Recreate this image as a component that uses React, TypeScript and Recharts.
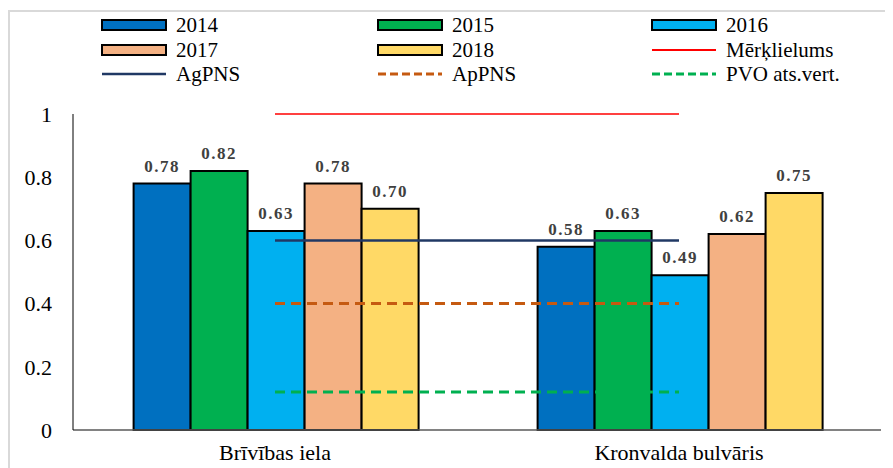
import { ComposedChart, Bar, Line, XAxis, YAxis, LabelList } from "recharts";

const categories = ["Brīvības iela", "Kronvalda bulvāris"];
const v2014 = [0.78, 0.58];
const v2015 = [0.82, 0.63];
const v2016 = [0.63, 0.49];
const v2017 = [0.78, 0.62];
const v2018 = [0.7, 0.75];
const merkis = [1, 1];
const agPNS = [0.6, 0.6];
const apPNS = [0.4, 0.4];
const pvo = [0.12, 0.12];
const yTicks = [0, 0.2, 0.4, 0.6, 0.8, 1];

const data = categories.map((name, i) => ({
  name,
  y2014: v2014[i],
  y2015: v2015[i],
  y2016: v2016[i],
  y2017: v2017[i],
  y2018: v2018[i],
  merkis: merkis[i],
  agPNS: agPNS[i],
  apPNS: apPNS[i],
  pvo: pvo[i],
}));

const bars = [
  { key: "y2014", name: "2014", color: "#0070C0" },
  { key: "y2015", name: "2015", color: "#00B050" },
  { key: "y2016", name: "2016", color: "#00B0F0" },
  { key: "y2017", name: "2017", color: "#F4B183" },
  { key: "y2018", name: "2018", color: "#FFD966" },
];

const lines = [
  { key: "merkis", name: "Mērķlielums", color: "#FF0000", width: 1.5, dash: undefined },
  { key: "agPNS", name: "AgPNS", color: "#203864", width: 2.5, dash: undefined },
  { key: "apPNS", name: "ApPNS", color: "#C55A11", width: 3, dash: "10 6" },
  { key: "pvo", name: "PVO ats.vert.", color: "#00B050", width: 3, dash: "10 6" },
];

const serif = "Liberation Serif, Times New Roman, serif";

// leģendas elementi trīs kolonnās
const legendItems = [
  ...bars.map((b) => ({ name: b.name, color: b.color, type: "bar", dash: undefined as string | undefined, width: 0 })),
  ...lines.map((l) => ({ name: l.name, color: l.color, type: "line", dash: l.dash, width: l.width })),
];

function ChartLegend() {
  const colX = [91, 367, 641];
  const rowY = [1, 26, 50];
  return (
    <>
      {legendItems.map((it, i) => {
        const col = i % 3;
        const row = Math.floor(i / 3);
        return (
          <div
            key={it.name}
            style={{
              position: "absolute",
              left: colX[col],
              top: rowY[row],
              display: "flex",
              alignItems: "center",
              fontFamily: serif,
              fontSize: 21,
              color: "#000",
              height: 24,
              whiteSpace: "nowrap",
            }}
          >
            <svg width={67} height={16} style={{ marginRight: 8 }}>
              {it.type === "bar" ? (
                <rect x={1} y={3} width={64} height={10} fill={it.color} stroke="#000" strokeWidth={2} />
              ) : (
                <line
                  x1={1}
                  x2={65}
                  y1={8}
                  y2={8}
                  stroke={it.color}
                  strokeWidth={it.width < 2 ? 2 : it.width}
                  strokeDasharray={it.dash ? "8 4" : undefined}
                />
              )}
            </svg>
            {it.name}
          </div>
        );
      })}
    </>
  );
}

export default function App() {
  return (
    <div
      style={{
        position: "relative",
        width: 900,
        height: 470,
        marginTop: 2,
        borderTop: "2px solid #d9d9d9",
        borderLeft: "2px solid #d9d9d9",
        boxSizing: "border-box",
        background: "#fff",
        fontFamily: serif,
      }}
    >
      <ChartLegend />
      <div style={{ position: "absolute", left: 0, top: 0 }}>
        <ComposedChart
          width={880}
          height={456}
          data={data}
          margin={{ top: 102, right: 9, left: 0, bottom: 8 }}
          barCategoryGap="15%"
          barGap={0}
        >
          <XAxis
            dataKey="name"
            axisLine={{ stroke: "#595959", strokeWidth: 1.5 }}
            tickLine={false}
            tick={{ fontFamily: serif, fontSize: 22, fill: "#000" }}
            tickMargin={8}
            height={30}
          />
          <YAxis
            domain={[0, 1]}
            ticks={yTicks}
            width={63}
            axisLine={{ stroke: "#000", strokeWidth: 1 }}
            tickLine={false}
            tickSize={0}
            tickMargin={21}
            tick={{ fontFamily: serif, fontSize: 22, fill: "#000" }}
          />
          {bars.map((b) => (
            <Bar
              key={b.key}
              dataKey={b.key}
              name={b.name}
              fill={b.color}
              stroke="#000"
              strokeWidth={2}
              isAnimationActive={false}
            >
              <LabelList
                dataKey={b.key}
                position="top"
                offset={12}
                formatter={(v: number) => v.toFixed(2)}
                fontFamily={serif}
                fontSize={17}
                fontWeight={700}
                fill="#404040"
                letterSpacing={1.5}
              />
            </Bar>
          ))}
          {lines.map((l) => (
            <Line
              key={l.key}
              dataKey={l.key}
              name={l.name}
              stroke={l.color}
              strokeWidth={l.width}
              strokeDasharray={l.dash}
              dot={false}
              activeDot={false}
              isAnimationActive={false}
            />
          ))}
        </ComposedChart>
      </div>
    </div>
  );
}
